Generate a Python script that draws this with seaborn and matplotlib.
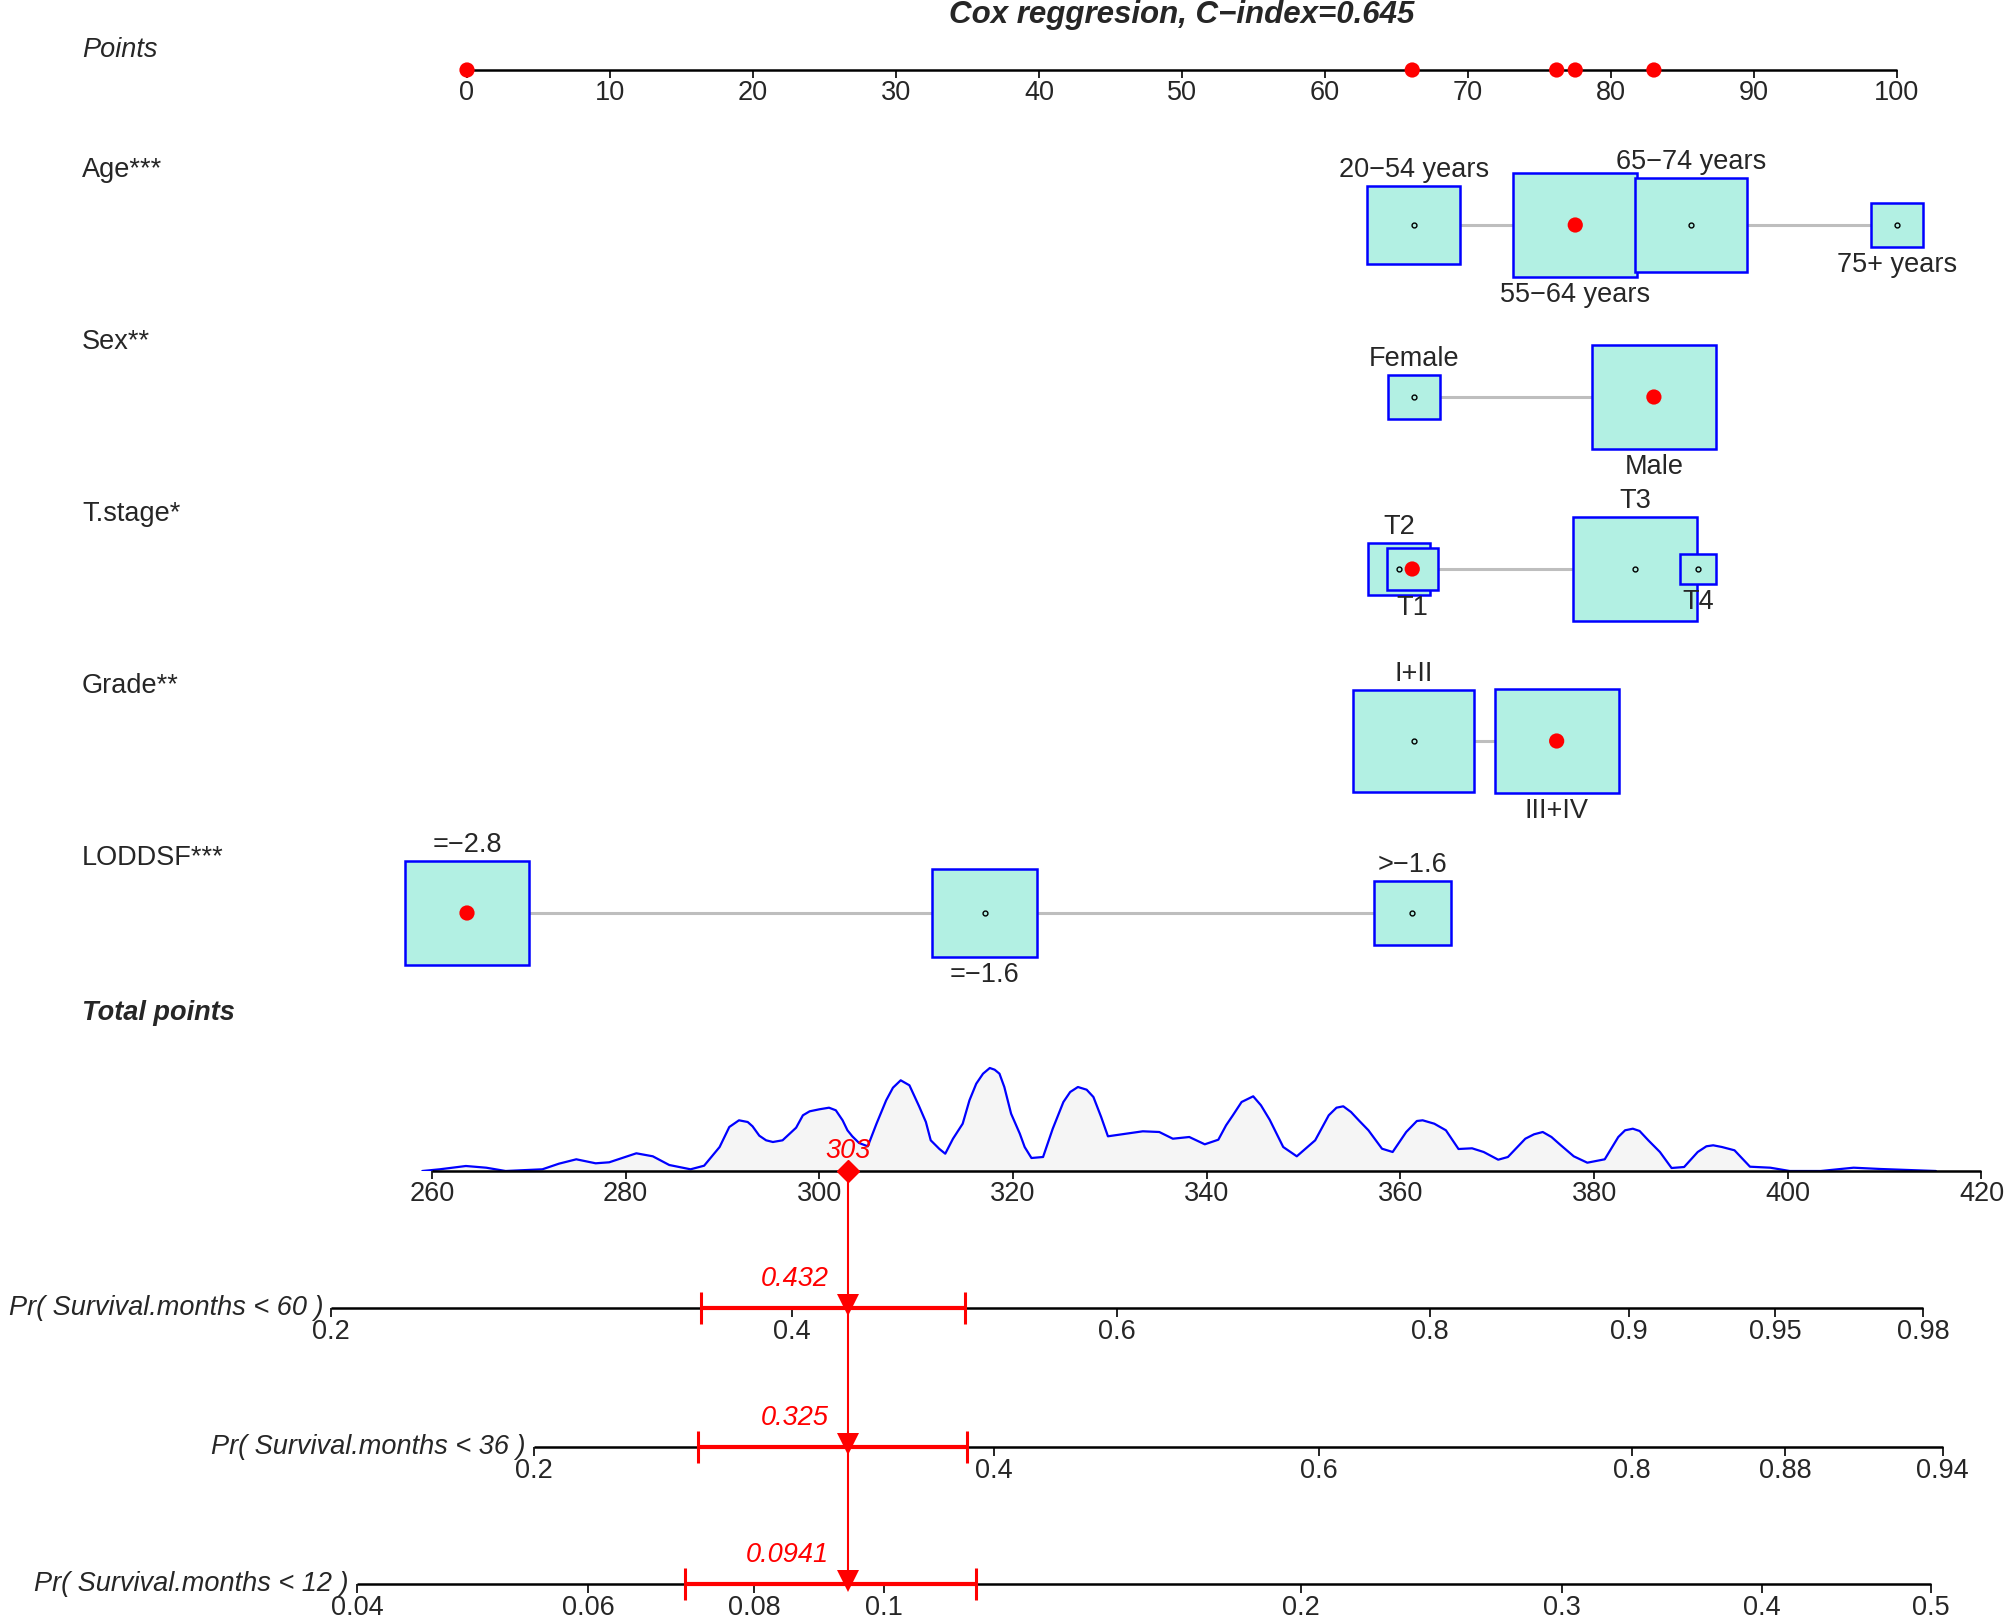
import numpy as np
import pandas as pd
import matplotlib
matplotlib.use("Agg")
import matplotlib.pyplot as plt
from matplotlib.patches import Rectangle
import seaborn as sns

# ---------------- values ----------------
title = "Cox reggresion, C\u2212index=0.645"
points_ticks = list(range(0, 101, 10))

var_names = ["Age***", "Sex**", "T.stage*", "Grade**", "LODDSF***"]
age_levels = ["20\u221254 years", "55\u221264 years", "65\u221274 years", "75+ years"]
age_points = [66.2, 77.5, 85.6, 100.0]
age_size = [0.75, 1.00, 0.90, 0.42]
sex_levels = ["Female", "Male"]
sex_points = [66.2, 83.0]
sex_size = [0.42, 1.00]
tstage_levels = ["T1", "T2", "T3", "T4"]
tstage_points = [66.1, 65.2, 81.7, 86.1]
tstage_size = [0.41, 0.50, 1.00, 0.29]
grade_levels = ["I+II", "III+IV"]
grade_points = [66.2, 76.2]
grade_size = [0.98, 1.00]
loddsf_levels = ["=\u22122.8", "=\u22121.6", ">\u22121.6"]
loddsf_points = [0.0, 36.2, 66.1]
loddsf_size = [1.00, 0.85, 0.62]
selected = [1, 1, 0, 1, 0]  # level of the plotted case, per variable

total_ticks = list(range(260, 421, 20))
total_obs = 303

# density of total points (height, arbitrary units)
dens_total = [259.0, 260.8, 263.5, 265.6, 267.6, 271.4, 273.1, 274.9, 276.9, 278.3,
              281.1, 282.8, 284.5, 286.7, 288.1, 289.7, 290.7, 291.7, 292.6, 293.1,
              293.8, 294.5, 295.2, 296.2, 297.6, 298.3, 299.0, 300.0, 301.0, 301.7,
              302.4, 302.9, 303.4, 304.1, 305.0, 305.9, 306.9, 307.6, 308.4, 309.3,
              310.3, 311.0, 311.5, 312.4, 313.0, 313.8, 314.8, 315.5, 316.2, 316.9,
              317.6, 318.1, 318.6, 319.1, 319.8, 320.7, 321.2, 321.9, 323.1, 324.1,
              325.2, 325.9, 326.7, 327.6, 328.3, 329.1, 329.8, 331.7, 333.4, 335.1,
              336.5, 338.2, 339.8, 341.2, 342.0, 342.7, 343.6, 344.8, 345.6, 346.5,
              347.9, 349.3, 351.2, 352.6, 353.4, 354.1, 354.9, 355.7, 356.7, 358.1,
              359.2, 360.6, 361.7, 362.3, 363.5, 364.7, 366.0, 367.4, 368.6, 370.1,
              371.1, 372.9, 373.8, 374.7, 375.6, 376.5, 377.9, 379.3, 381.1, 382.5,
              383.2, 384.0, 384.7, 385.6, 386.8, 388.0, 389.3, 390.7, 391.6, 392.3,
              393.2, 394.5, 396.1, 398.2, 400.2, 403.4, 406.8, 409.6, 415.3]
dens_height = [0, 1.7, 5.0, 3.3, 0, 1.7, 7.3, 11.7, 7.7, 8.7,
               17.7, 14.7, 6.0, 1.7, 5.3, 24.0, 44.0, 50.7, 49.0, 44.7,
               35.3, 30.7, 29.0, 30.7, 43.3, 55.7, 59.7, 61.7, 63.3, 60.7,
               50.7, 40.7, 34.7, 28.0, 24.7, 47.3, 70.7, 83.3, 90.7, 85.7,
               64.7, 49.0, 30.7, 22.0, 17.3, 32.3, 47.3, 70.7, 87.3, 97.3,
               103.0, 101.3, 97.3, 84.0, 57.3, 37.3, 24.0, 13.0, 14.0, 42.3,
               69.0, 79.0, 84.0, 81.3, 74.0, 54.0, 34.7, 37.3, 39.7, 39.0,
               32.3, 34.0, 26.7, 31.3, 45.7, 55.7, 69.0, 74.7, 65.7, 51.3,
               24.0, 14.7, 30.7, 55.7, 63.3, 64.7, 59.0, 50.7, 40.7, 22.3,
               19.0, 39.0, 50.0, 50.7, 47.3, 40.7, 22.0, 22.7, 19.0, 11.3,
               14.0, 32.3, 36.7, 39.0, 34.0, 26.3, 14.7, 8.3, 11.7, 34.0,
               40.7, 42.3, 40.0, 30.7, 19.0, 3.0, 4.0, 19.0, 24.7, 25.7,
               24.0, 20.7, 4.3, 3.3, 0, 0, 3.3, 2.0, 0]

pr_labels = ["Pr( Survival.months < 60 )", "Pr( Survival.months < 36 )",
             "Pr( Survival.months < 12 )"]
pr_ticks = [[0.2, 0.4, 0.6, 0.8, 0.9, 0.95, 0.98],
            [0.2, 0.4, 0.6, 0.8, 0.88, 0.94],
            [0.04, 0.06, 0.08, 0.1, 0.2, 0.3, 0.4, 0.5]]
pr_obs = [0.432, 0.325, 0.0941]
pr_ci = [(0.352, 0.502), (0.259, 0.385), (0.071, 0.117)]
lp_slope = 0.01742  # change of log cumulative hazard per total point

# ---------------- layout (pixels) ----------------
W, H = 2007, 1618
PT0, PT_PX = 467, 14.30       # px of 0 points, px per point
TOT0, TOT_PX = 432, 9.684     # px of 260 total points, px per total point
LEFT = 82
y_points = 70
row_y = [225, 397, 569, 741, 913]
y_total = 1171
pr_y = [1308, 1447, 1584]
BOX_H, BOX_ASPECT = 104, 1.19
FS = 19.5
LW_AX = 1.8
BOX_FILL, BOX_EDGE = "#b2f0e3", "#0000ff"

sns.set_style("white")
plt.rcParams["font.family"] = ["Liberation Sans", "DejaVu Sans"]

fig = plt.figure(figsize=(W / 100, H / 100), dpi=100)
ax = fig.add_axes([0, 0, 1, 1])
ax.set_xlim(-PT0 / PT_PX, (W - PT0) / PT_PX)
ax.set_ylim(H, 0)
ax.axis("off")
x_left = (LEFT - PT0) / PT_PX

tot_lo = total_ticks[0] - TOT0 / TOT_PX
tot_hi = total_ticks[0] + (W - TOT0) / TOT_PX

DENS_TOP = 110
axd = fig.add_axes([0, (H - y_total) / H, 1, DENS_TOP / H], facecolor="none")
axd.set_xlim(tot_lo, tot_hi)
axd.set_ylim(0, DENS_TOP)
axd.axis("off")

axb = fig.add_axes([0, 0, 1, 1], facecolor="none")
axb.set_xlim(tot_lo, tot_hi)
axb.set_ylim(H, 0)
axb.axis("off")
axb.set_zorder(axd.get_zorder() + 1)


def scale(a, xs, labels, y, tick_len=8, gap=23):
    a.plot([xs[0], xs[-1]], [y, y], color="black", lw=LW_AX, solid_capstyle="butt", zorder=2)
    a.vlines(xs, y, y + tick_len, color="black", lw=1.2, zorder=2)
    for x, lab in zip(xs, labels):
        a.text(x, y + gap, lab, ha="center", va="center", fontsize=FS)


# title and points scale
ax.text(50, 15, title, ha="center", va="center", fontsize=22.5,
        fontweight="bold", fontstyle="italic")
ax.text(x_left, 50, "Points", ha="left", va="center", fontsize=FS, fontstyle="italic")
scale(ax, points_ticks, [str(t) for t in points_ticks], y_points)

variables = [
    (age_levels, age_points, age_size),
    (sex_levels, sex_points, sex_size),
    (tstage_levels, tstage_points, tstage_size),
    (grade_levels, grade_points, grade_size),
    (loddsf_levels, loddsf_points, loddsf_size),
]

obs_points = []
for vi, (levels, pts, sizes) in enumerate(variables):
    y = row_y[vi]
    ax.text(x_left, y - 55, var_names[vi], ha="left", va="center", fontsize=FS)
    ax.plot([min(pts), max(pts)], [y, y], color="#bebebe", lw=2.2, zorder=1)
    # largest boxes first so small ones stay visible
    for li in sorted(range(len(levels)), key=lambda i: -sizes[i]):
        h = BOX_H * sizes[li]
        w = h * BOX_ASPECT / PT_PX
        ax.add_patch(Rectangle((pts[li] - w / 2, y - h / 2), w, h, facecolor=BOX_FILL,
                               edgecolor=BOX_EDGE, lw=1.8, zorder=3))
        if li != selected[vi]:
            ax.plot(pts[li], y, marker="o", ms=3.5, mfc="none", mec="black",
                    mew=1.0, zorder=4)
    # labels alternate above / below in order of position
    for rank, li in enumerate(np.argsort(pts, kind="stable")):
        h = BOX_H * sizes[li]
        ly = y - h / 2 - 16 if rank % 2 == 0 else y + h / 2 + 18
        ax.text(pts[li], ly, levels[li], ha="center", va="center", fontsize=FS)
    obs_points.append(pts[selected[vi]])

sel = pd.DataFrame({"points": obs_points, "row": row_y})
sns.scatterplot(data=sel, x="points", y="row", s=120, color="red", edgecolor="none",
                ax=ax, zorder=5, legend=False)
sns.scatterplot(x=obs_points, y=[y_points] * len(obs_points), s=120, color="red",
                edgecolor="none", ax=ax, zorder=5, legend=False)

# total points
ax.text(x_left, 1013, "Total points", ha="left", va="center",
        fontsize=FS, fontweight="bold", fontstyle="italic")
dens = pd.DataFrame({"total": dens_total, "density": dens_height})
axd.fill_between(dens["total"], 0, dens["density"], color="#f5f5f5", lw=0, zorder=1)
sns.lineplot(data=dens, x="total", y="density", sort=False, color="#0000ff",
             lw=1.6, ax=axd, zorder=3)
axd.axis("off")
scale(axb, total_ticks, [str(t) for t in total_ticks], y_total)


# probability scales
def prob_to_total(p, k):
    cll = np.log(-np.log(1 - np.asarray(p, dtype=float)))
    cll_obs = np.log(-np.log(1 - pr_obs[k]))
    return total_obs + (cll - cll_obs) / lp_slope


axb.plot([total_obs, total_obs], [y_total, pr_y[-1]], color="red", lw=1.5, zorder=4)
axb.plot(total_obs, y_total, marker="D", ms=11, color="red", zorder=6)
axb.text(total_obs, 1151, str(total_obs), ha="center", va="center", fontsize=FS,
         fontstyle="italic", color="red", zorder=6)

for k in range(3):
    y = pr_y[k]
    xs = prob_to_total(pr_ticks[k], k)
    scale(axb, list(xs), [f"{t:g}" for t in pr_ticks[k]], y, tick_len=9, gap=24)
    axb.annotate(pr_labels[k], (xs[0], y), xytext=(-6, 0), textcoords="offset points",
                 ha="right", va="center", fontsize=FS, fontstyle="italic")
    lo, hi = prob_to_total(pr_ci[k], k)
    axb.plot([lo, hi], [y, y], color="red", lw=3, solid_capstyle="butt", zorder=4)
    axb.vlines([lo, hi], y - 16, y + 16, color="red", lw=2.2, zorder=4)
    axb.plot(total_obs, y - 3, marker="v", ms=16, color="red", mew=0, zorder=6)
    axb.annotate(f"{pr_obs[k]:g}", (total_obs, y - 29), xytext=(-14, 0),
                 textcoords="offset points", ha="right", va="center", fontsize=FS,
                 fontstyle="italic", color="red")

fig.savefig("out.png", dpi=100)
